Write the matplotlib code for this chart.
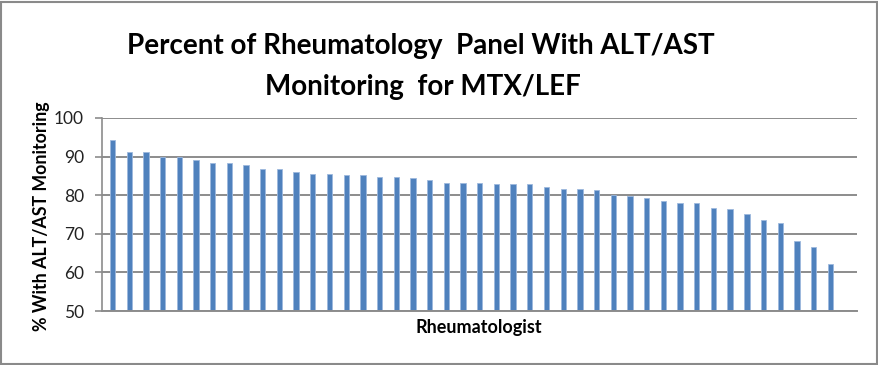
import matplotlib
matplotlib.use("Agg")
import matplotlib.pyplot as plt
from matplotlib.patches import Rectangle

values = [94.3, 91.3, 91.3, 90.0, 89.8, 89.0, 88.3, 88.3, 87.8, 86.7, 86.7,
          86.0, 85.6, 85.6, 85.2, 85.2, 84.8, 84.8, 84.4, 84.0, 83.2, 83.2,
          83.2, 82.8, 82.8, 82.8, 82.1, 81.6, 81.6, 81.3, 80.1, 79.9, 79.4,
          78.6, 77.9, 77.9, 76.8, 76.4, 75.2, 73.7, 72.9, 68.2, 66.7, 62.3]
yticks = [50, 60, 70, 80, 90, 100]
title_lines = ["Percent of Rheumatology  Panel With ALT/AST", "Monitoring  for MTX/LEF"]
ylabel = "% With ALT/AST Monitoring"
xlabel = "Rheumatologist"

W, H = 879, 365
fig = plt.figure(figsize=(W / 100, H / 100), dpi=100)
fam = ["Lato", "DejaVu Sans"]

left, right, top, bottom = 102, 857, 118, 311
ax = fig.add_axes([left / W, 1 - bottom / H, (right - left) / W, (bottom - top) / H])

x = list(range(len(values)))
ax.bar(x, values, width=0.32, bottom=0, color="#4F81BD", edgecolor="#9DB9DD",
       linewidth=0.6, zorder=3)
ax.set_ylim(50, 100)
ax.set_xlim(-0.63, 44.6)
ax.set_yticks(yticks)
ax.set_yticklabels([str(t) for t in yticks], fontsize=12.5, family=fam, color="#222222")
ax.set_xticks([])
ax.yaxis.grid(True, color="#8C8C8C", linewidth=1.4, zorder=0)
for s in ["top", "right", "bottom"]:
    ax.spines[s].set_visible(False)
ax.spines["left"].set_color("#8C8C8C")
ax.spines["left"].set_linewidth(1.2)
ax.tick_params(axis="y", length=5, width=1.2, color="#8C8C8C", pad=8)
ax.axhline(50, color="#8C8C8C", linewidth=1.4, zorder=4, clip_on=False)

fig.text(42 / W, 1 - 216 / H, ylabel, rotation=90, ha="center", va="center",
         fontsize=12.8, fontweight="bold", family=fam)
fig.text(479 / W, 1 - 327 / H, xlabel, ha="center", va="center",
         fontsize=13, fontweight="bold", family=fam)

fig.text(421 / W, 1 - 46 / H, title_lines[0], ha="center", va="center",
         fontsize=20, fontweight="bold", family=fam)
fig.text(423 / W, 1 - 87 / H, title_lines[1], ha="center", va="center",
         fontsize=20, fontweight="bold", family=fam)

fig.patches.append(Rectangle((1 / W, 1 / H), (W - 3) / W, (H - 3) / H,
                             transform=fig.transFigure, fill=False,
                             edgecolor="#8A8A8A", linewidth=1.5))

fig.savefig("out.png", dpi=100)
